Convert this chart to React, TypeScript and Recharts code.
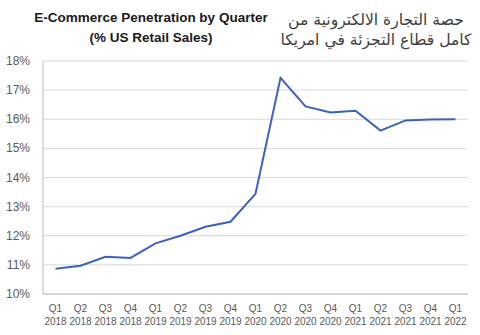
import React from "react";
import { LineChart, Line, XAxis, YAxis, CartesianGrid } from "recharts";

const quarters = ["Q1", "Q2", "Q3", "Q4", "Q1", "Q2", "Q3", "Q4", "Q1", "Q2", "Q3", "Q4", "Q1", "Q2", "Q3", "Q4", "Q1"];
const years = ["2018", "2018", "2018", "2018", "2019", "2019", "2019", "2019", "2020", "2020", "2020", "2020", "2021", "2021", "2021", "2021", "2022"];
const penetration = [10.87, 10.97, 11.28, 11.24, 11.74, 12.0, 12.31, 12.48, 13.44, 17.42, 16.44, 16.23, 16.29, 15.61, 15.96, 15.99, 16.0];
const yTicks = [10, 11, 12, 13, 14, 15, 16, 17, 18];
const titleLines = ["E-Commerce Penetration by Quarter", "(% US Retail Sales)"];
const arabicLines = ["حصة التجارة الالكترونية من", "كامل قطاع التجزئة في امريكا"];

const data = quarters.map((q, i) => ({ label: `${q} ${years[i]}`, q, year: years[i], value: penetration[i] }));

const XTick = (props: any) => {
  const { x, y, index } = props;
  const d = data[index];
  return (
    <g>
      <text x={x} y={y + 10} textAnchor="middle" fontSize={10} fill="#595959" fontFamily="Liberation Sans, Arial, sans-serif">{d.q}</text>
      <text x={x} y={y + 23} textAnchor="middle" fontSize={10} fill="#595959" fontFamily="Liberation Sans, Arial, sans-serif">{d.year}</text>
    </g>
  );
};

const YTick = (props: any) => {
  const { y, payload } = props;
  return (
    <text x={30} y={y + 4} textAnchor="end" fontSize={12} fill="#595959" fontFamily="Liberation Sans, Arial, sans-serif">{`${payload.value}%`}</text>
  );
};

export default function App() {
  return (
    <div style={{ position: "fixed", left: 0, top: 0, width: 480, height: 335, background: "#fff" }}>
      <div style={{ position: "absolute", left: 0, top: 8, width: 302, textAlign: "center", fontFamily: "Liberation Sans, Arial, sans-serif", fontWeight: "bold", fontSize: 13.5, color: "#1a1a1a", lineHeight: "20px" }}>
        {titleLines.map((t, i) => <div key={i}>{t}</div>)}
      </div>
      <div dir="rtl" style={{ position: "absolute", left: 276, top: 10, width: 200, textAlign: "center", fontFamily: "DejaVu Sans, sans-serif", fontSize: 15.6, color: "#404040", lineHeight: "20px" }}>
        {arabicLines.map((t, i) => <div key={i}>{t}</div>)}
      </div>
      <LineChart width={480} height={335} data={data} margin={{ top: 61, right: 12, bottom: 0, left: 0 }} style={{ position: "absolute", left: 0, top: 0 }}>
        <CartesianGrid vertical={false} stroke="#d9d9d9" strokeWidth={1} />
        <XAxis dataKey="label" interval={0} height={41} padding={{ left: 12.5, right: 12.5 }} tick={<XTick />} tickLine={false} axisLine={{ stroke: "#bfbfbf" }} />
        <YAxis domain={[10, 18]} ticks={yTicks} width={43} tick={<YTick />} tickLine={false} axisLine={{ stroke: "#bfbfbf" }} />
        <Line type="linear" dataKey="value" stroke="#3A62C0" strokeWidth={2} dot={false} isAnimationActive={false} />
      </LineChart>
    </div>
  );
}
